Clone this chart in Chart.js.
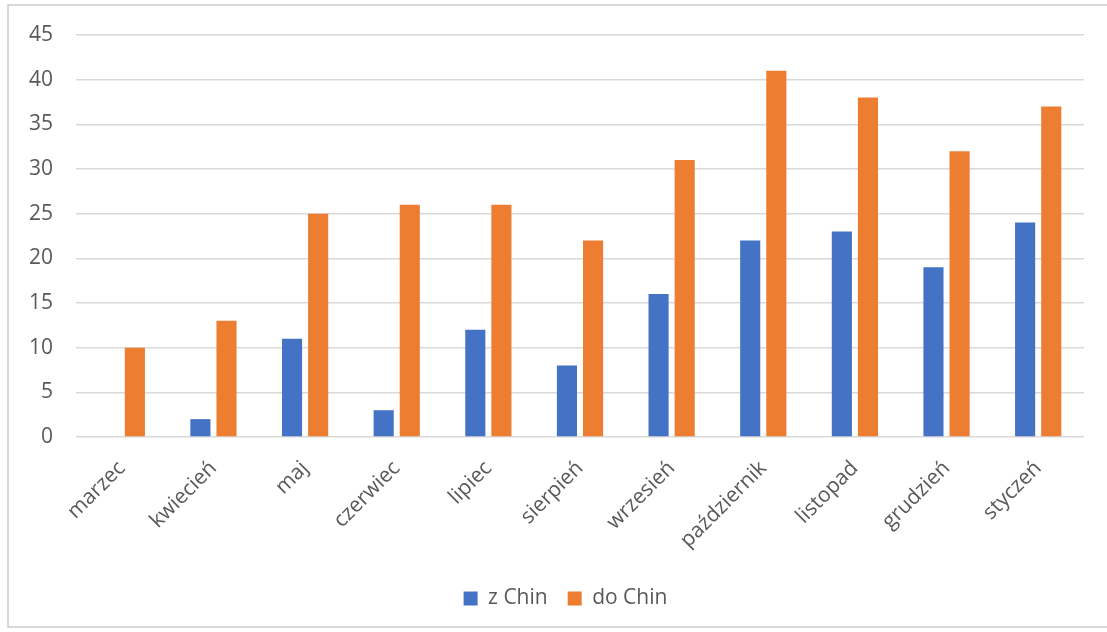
<!DOCTYPE html>
<html>
<head>
<meta charset="utf-8">
<script src="https://cdn.jsdelivr.net/npm/chart.js@4"></script>
<style>
  html, body { margin: 0; padding: 0; background: #ffffff; overflow: hidden; }
  #ramka {
    position: absolute; left: 7px; top: 4px; width: 1104px; height: 624px;
    border: 2px solid #d9d9d9; box-sizing: border-box; overflow: hidden;
  }
  #div_canva { position: absolute; left: 0; top: 0; width: 1098px; height: 620px; }
</style>
</head>
<body>
<div id="ramka"><div id="div_canva"><canvas id="myChart"></canvas></div></div>
<script>
const miesiace = ['marzec', 'kwiecień', 'maj', 'czerwiec', 'lipiec', 'sierpień', 'wrzesień', 'październik', 'listopad', 'grudzień', 'styczeń'];
const zChin = [0, 2, 11, 3, 12, 8, 16, 22, 23, 19, 24];
const doChin = [10, 13, 25, 26, 26, 22, 31, 41, 38, 32, 37];

const fontRodzina = '"Open Sans", "Noto Sans", sans-serif';
const szary = '#595959';

// legenda jest przesunieta w prawo przez padding z lewej, wiec os Y nie moze ucinac etykiet
const osYBezPrzyciecia = {
  id: 'osYBezPrzyciecia',
  afterLayout(chart) {
    chart.scales.y.left = 0;
  }
};

function construirGrafico() {
  const ctx = document.getElementById('myChart');
  new Chart(ctx, {
    type: 'bar',
    data: {
      labels: miesiace,
      datasets: [
        {
          label: 'z Chin',
          data: zChin,
          backgroundColor: '#4472c4',
          borderWidth: 0
        },
        {
          label: 'do Chin',
          data: doChin,
          backgroundColor: '#ed7d31',
          borderWidth: 0
        }
      ]
    },
    options: {
      responsive: true,
      maintainAspectRatio: false,
      animation: false,
      barPercentage: 0.77,
      categoryPercentage: 0.57,
      layout: {
        padding: { left: 38, right: 23, top: 29, bottom: 7 }
      },
      scales: {
        y: {
          min: 0,
          max: 45,
          afterFit: (scale) => {
            scale.width = 29;
            scale.paddingTop = 0;
            scale.paddingBottom = 0;
          },
          ticks: {
            stepSize: 5,
            color: szary,
            padding: 23,
            crossAlign: 'near',
            font: { family: fontRodzina, size: 21 }
          },
          grid: { color: '#d9d9d9', lineWidth: 1.5, drawTicks: false },
          border: { display: false }
        },
        x: {
          afterFit: (scale) => { scale.height = 131; },
          ticks: {
            color: szary,
            minRotation: 45,
            maxRotation: 45,
            padding: 11,
            font: { family: fontRodzina, size: 21 }
          },
          grid: { display: false },
          border: { display: false }
        }
      },
      plugins: {
        legend: {
          position: 'bottom',
          labels: {
            color: szary,
            boxWidth: 14,
            boxHeight: 14,
            padding: 20,
            font: { family: fontRodzina, size: 21 }
          }
        },
        tooltip: { enabled: false }
      }
    },
    plugins: [osYBezPrzyciecia]
  });
}

construirGrafico();
</script>
</body>
</html>
